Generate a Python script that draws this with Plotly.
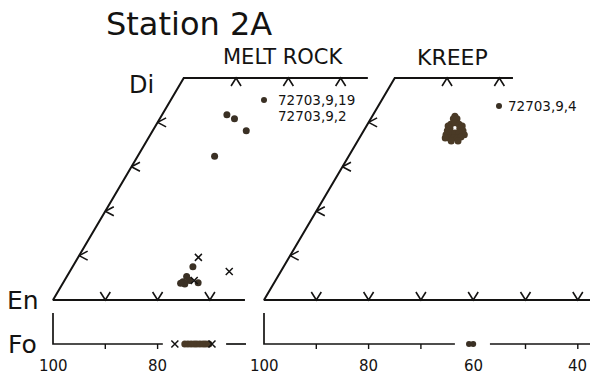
import plotly.graph_objects as go

# ---------------- data ----------------
# Melt rock pyroxenes, 72703,9,19 (filled circles) - Wo and Fs, mol %
MELT_PX_WO = [41.7, 40.8, 38.1, 32.4, 7.5, 4.1, 5.3, 4.4, 3.6, 3.8, 3.9]
MELT_PX_FS = [12.4, 14.3, 17.9, 14.7, 23.0, 22.8, 22.9, 23.9, 23.4, 22.5, 25.8]
# Melt rock pyroxenes, 72703,9,2 (crosses)
MELT_PX2_WO = [9.6, 6.4, 4.4]
MELT_PX2_FS = [23.0, 30.5, 24.8]
# KREEP pyroxenes, 72703,9,4
KREEP_PX_WO = [41.4, 40.8, 40.8, 39.6, 39.9, 39.6, 39.2, 39.2, 38.7, 38.7, 38.1, 38.1,
               37.8, 37.6, 37.8, 37.2, 37.2, 36.5, 36.5, 36.5, 36.7, 36.5, 35.8, 35.8]
KREEP_PX_FS = [15.8, 15.8, 16.5, 15.9, 16.6, 17.5, 15.6, 18.3, 16.2, 18.1, 16.0, 19.0,
               16.8, 17.7, 18.4, 16.2, 19.7, 17.1, 17.9, 18.7, 19.3, 16.4, 17.9, 19.2]
# Olivines, Fo mol %
MELT_OL_FO = [74.8, 74.2, 73.6, 73.0, 72.5, 71.9, 71.3, 70.8, 70.2]
MELT_OL2_FO = [76.7, 69.6]
KREEP_OL_FO = [60.8, 60.0]

# Graduations
EDGE_WO_TICKS = [10, 20, 30, 40]          # along En-Di edge
MELT_TOP_FS_TICKS = [10, 20, 30]          # along Di-Hd join
KREEP_TOP_FS_TICKS = [10, 20]
MELT_BASE_TICKS = [90, 80, 70]            # along En-Fs join
KREEP_BASE_TICKS = [90, 80, 70, 60, 50, 40]
MELT_OL_TICKS = [90, 80]
KREEP_OL_TICKS = [90, 80, 70, 50, 40]
MELT_TICK_LABELS = [100, 80]
KREEP_TICK_LABELS = [100, 80, 60, 40]

# ---------------- geometry ----------------
W, H = 590, 375
PXU_X = 5.23      # pixels per composition unit, horizontal
PXU_Y = 4.44      # pixels per Wo unit, vertical
EN0_LEFT, EN0_RIGHT, BASE_Y = 53, 264, 300   # pixel location of En corners

OL_ROW = -(344 - BASE_Y) / PXU_Y        # olivine strip baseline in Wo units
OL_TOP = -(313 - BASE_Y) / PXU_Y

INK = "#141312"
DOT = "#3a3024"


def en_axis(wo, fs):
    """Position along the En-Fs scale for a pyroxene of given Wo, Fs."""
    return [100 - f - w / 2 for w, f in zip(wo, fs)]


def chevrons(points, kind):
    xs, ys = [], []
    sx, dx = 5.0 / PXU_X, 8.5 / PXU_X
    sy, dy = 4.5 / PXU_Y, 8.0 / PXU_Y
    for vx, vy in points:
        if kind == "v":
            seg = [(vx + sx, vy + dy), (vx, vy), (vx - sx, vy + dy)]
        elif kind == "^":
            seg = [(vx + sx, vy - dy), (vx, vy), (vx - sx, vy - dy)]
        else:  # "<" opening to the right (lower axis values)
            seg = [(vx - dx, vy + sy), (vx, vy), (vx - dx, vy - sy)]
        for a, b in seg:
            xs.append(a)
            ys.append(b)
        xs.append(None)
        ys.append(None)
    return xs, ys


fig = go.Figure()


def line(xs, ys, xa, width=2.0):
    fig.add_trace(go.Scatter(x=xs, y=ys, mode="lines", xaxis=xa, yaxis="y",
                             line=dict(color=INK, width=width),
                             hoverinfo="skip", showlegend=False))


def panel(xa, top_end_fs, base_end, top_ticks, base_ticks, ol_ticks, ol_segments):
    # quadrilateral outline: base, En-Di edge, Di-Hd join
    line([base_end, 100, 75, 100 - 25 - top_end_fs], [0, 0, 50, 50], xa)
    # graduations
    edge = [(100 - w / 2, w) for w in EDGE_WO_TICKS]
    cx, cy = chevrons(edge, "<")
    line(cx, cy, xa, 1.6)
    cx, cy = chevrons([(100 - 25 - f, 50) for f in top_ticks], "^")
    line(cx, cy, xa, 1.6)
    cx, cy = chevrons([(v, 0) for v in base_ticks], "v")
    line(cx, cy, xa, 1.6)
    # olivine strip
    xs, ys = [100, 100], [OL_TOP, OL_ROW]
    for a, b in ol_segments:
        if a != 100:
            xs.append(None)
            ys.append(None)
        xs += [a, b]
        ys += [OL_ROW, OL_ROW]
    line(xs, ys, xa, 1.7)
    tx, ty = [], []
    for v in ol_ticks:
        tx += [v, v, None]
        ty += [OL_ROW, OL_ROW - 5 / PXU_Y, None]
    line(tx, ty, xa, 1.4)


panel("x", 35.2, 63.3, MELT_TOP_FS_TICKS, MELT_BASE_TICKS, MELT_OL_TICKS,
      [(100, 79.0), (66.9, 63.1)])
panel("x2", 22.6, 36.0, KREEP_TOP_FS_TICKS, KREEP_BASE_TICKS, KREEP_OL_TICKS,
      [(100, 63.5), (56.8, 36.0)])

# pyroxene analyses
fig.add_trace(go.Scatter(x=en_axis(MELT_PX_WO, MELT_PX_FS), y=MELT_PX_WO, xaxis="x",
                         mode="markers", marker=dict(size=7, color=DOT),
                         showlegend=False))
fig.add_trace(go.Scatter(x=en_axis(MELT_PX2_WO, MELT_PX2_FS), y=MELT_PX2_WO, xaxis="x",
                         mode="markers",
                         marker=dict(symbol="x-thin", size=7,
                                     line=dict(color=INK, width=1.5)),
                         showlegend=False))
fig.add_trace(go.Scatter(x=en_axis(KREEP_PX_WO, KREEP_PX_FS), y=KREEP_PX_WO, xaxis="x2",
                         mode="markers", marker=dict(size=7, color="#4a3a26"),
                         showlegend=False))

# olivine analyses
fig.add_trace(go.Scatter(x=MELT_OL_FO, y=[OL_ROW] * len(MELT_OL_FO), xaxis="x",
                         mode="markers", marker=dict(size=7, color="#4a3a26"),
                         showlegend=False))
fig.add_trace(go.Scatter(x=MELT_OL2_FO, y=[OL_ROW] * len(MELT_OL2_FO), xaxis="x",
                         mode="markers",
                         marker=dict(symbol="x-thin", size=7,
                                     line=dict(color=INK, width=1.5)),
                         showlegend=False))
fig.add_trace(go.Scatter(x=KREEP_OL_FO, y=[OL_ROW] * len(KREEP_OL_FO), xaxis="x2",
                         mode="markers", marker=dict(size=6, color="#3a3024"),
                         showlegend=False))

FONT = "DejaVu Sans"


def px(xp):
    return xp / W


def py(yp):
    return 1 - yp / H


ann = []


def text(s, x, y, size, xanchor="center", xref="paper"):
    ann.append(dict(text=s, x=x if xref != "paper" else px(x), y=py(y),
                    xref=xref, yref="paper", xanchor=xanchor, yanchor="middle",
                    showarrow=False, font=dict(family=FONT, size=size, color=INK)))


text("Station 2A", 189, 24, 32)
text("MELT ROCK", 283, 57, 21)
text("KREEP", 452, 57, 22)
text("Di", 141, 85, 24)
text("En", 23, 300, 25)
text("Fo", 22, 344, 25)
text("72703,9,19", 276, 100, 13.5, "left")
text("72703,9,2", 276, 116, 13.5, "left")
text("72703,9,4", 506, 106, 13.5, "left")
for v in MELT_TICK_LABELS:
    text(str(v), v, 366, 15, xref="x")
for v in KREEP_TICK_LABELS:
    text(str(v), v, 366, 15, xref="x2")

shapes = []
for cxp, cyp in [(264, 100), (499, 106)]:
    shapes.append(dict(type="circle", xref="paper", yref="paper",
                       x0=px(cxp - 3), x1=px(cxp + 3), y0=py(cyp + 3), y1=py(cyp - 3),
                       fillcolor=DOT, line=dict(width=0)))

ax_common = dict(visible=False, showgrid=False, zeroline=False, domain=[0, 1])
fig.update_layout(
    width=W, height=H, margin=dict(l=0, r=0, t=0, b=0),
    paper_bgcolor="white", plot_bgcolor="white",
    xaxis=dict(range=[100 + EN0_LEFT / PXU_X, 100 - (W - EN0_LEFT) / PXU_X], **ax_common),
    xaxis2=dict(range=[100 + EN0_RIGHT / PXU_X, 100 - (W - EN0_RIGHT) / PXU_X],
                overlaying="x", anchor="y", **ax_common),
    yaxis=dict(range=[-(H - BASE_Y) / PXU_Y, BASE_Y / PXU_Y], **ax_common),
    annotations=ann, shapes=shapes,
)

fig.write_html("out.html")
